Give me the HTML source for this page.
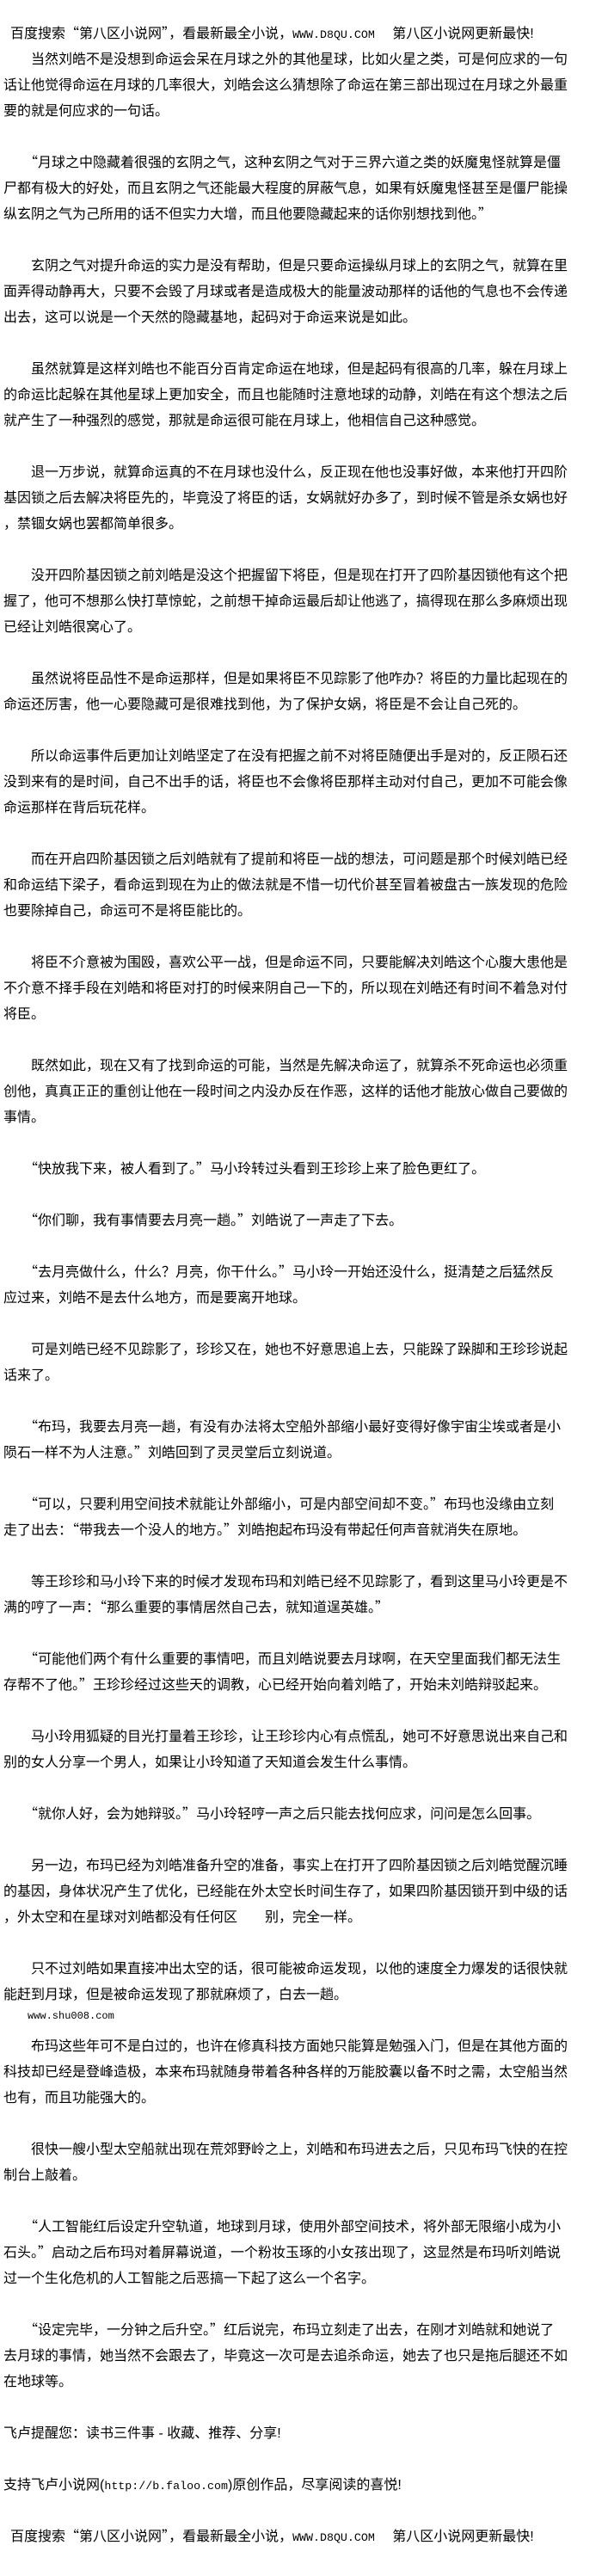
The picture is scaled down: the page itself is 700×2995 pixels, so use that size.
<!DOCTYPE html>
<html><head><meta charset="utf-8">
<style>
html,body{margin:0;padding:0;background:#fff;}
body{width:700px;height:2990px;overflow:hidden;font-family:"Liberation Sans","Noto Sans CJK SC",sans-serif;font-size:16px;color:#000;}
#w{position:absolute;left:4px;top:25px;}
p{margin:0 0 30px 0;line-height:30px;height:auto;white-space:nowrap;}
.h{padding-left:8px;}
.m{font-family:"Liberation Mono",monospace;font-size:13.3px;line-height:0;}
q{quotes:none;font-family:"Noto Sans CJK SC",sans-serif;line-height:0;}
q:before,q:after{content:none;}
.s{position:absolute;left:32px;top:2336px;font-family:"Liberation Mono",monospace;font-size:12px;line-height:16px;}
</style></head><body>
<div id="w">
<p class="h" style="margin-bottom:0">百度搜索<q>“</q>第八区小说网<q>”</q>，看最新最全小说，<span class="m">WWW.D8QU.COM</span>　 第八区小说网更新最快!</p>
<p>　　当然刘皓不是没想到命运会呆在月球之外的其他星球，比如火星之类，可是何应求的一句<br>话让他觉得命运在月球的几率很大，刘皓会这么猜想除了命运在第三部出现过在月球之外最重<br>要的就是何应求的一句话。</p>
<p>　　<q>“</q>月球之中隐藏着很强的玄阴之气，这种玄阴之气对于三界六道之类的妖魔鬼怪就算是僵<br>尸都有极大的好处，而且玄阴之气还能最大程度的屏蔽气息，如果有妖魔鬼怪甚至是僵尸能操<br>纵玄阴之气为己所用的话不但实力大增，而且他要隐藏起来的话你别想找到他。<q>”</q></p>
<p>　　玄阴之气对提升命运的实力是没有帮助，但是只要命运操纵月球上的玄阴之气，就算在里<br>面弄得动静再大，只要不会毁了月球或者是造成极大的能量波动那样的话他的气息也不会传递<br>出去，这可以说是一个天然的隐藏基地，起码对于命运来说是如此。</p>
<p>　　虽然就算是这样刘皓也不能百分百肯定命运在地球，但是起码有很高的几率，躲在月球上<br>的命运比起躲在其他星球上更加安全，而且也能随时注意地球的动静，刘皓在有这个想法之后<br>就产生了一种强烈的感觉，那就是命运很可能在月球上，他相信自己这种感觉。</p>
<p>　　退一万步说，就算命运真的不在月球也没什么，反正现在他也没事好做，本来他打开四阶<br>基因锁之后去解决将臣先的，毕竟没了将臣的话，女娲就好办多了，到时候不管是杀女娲也好<br>，禁锢女娲也罢都简单很多。</p>
<p>　　没开四阶基因锁之前刘皓是没这个把握留下将臣，但是现在打开了四阶基因锁他有这个把<br>握了，他可不想那么快打草惊蛇，之前想干掉命运最后却让他逃了，搞得现在那么多麻烦出现<br>已经让刘皓很窝心了。</p>
<p>　　虽然说将臣品性不是命运那样，但是如果将臣不见踪影了他咋办？将臣的力量比起现在的<br>命运还厉害，他一心要隐藏可是很难找到他，为了保护女娲，将臣是不会让自己死的。</p>
<p>　　所以命运事件后更加让刘皓坚定了在没有把握之前不对将臣随便出手是对的，反正陨石还<br>没到来有的是时间，自己不出手的话，将臣也不会像将臣那样主动对付自己，更加不可能会像<br>命运那样在背后玩花样。</p>
<p>　　而在开启四阶基因锁之后刘皓就有了提前和将臣一战的想法，可问题是那个时候刘皓已经<br>和命运结下梁子，看命运到现在为止的做法就是不惜一切代价甚至冒着被盘古一族发现的危险<br>也要除掉自己，命运可不是将臣能比的。</p>
<p>　　将臣不介意被为围殴，喜欢公平一战，但是命运不同，只要能解决刘皓这个心腹大患他是<br>不介意不择手段在刘皓和将臣对打的时候来阴自己一下的，所以现在刘皓还有时间不着急对付<br>将臣。</p>
<p>　　既然如此，现在又有了找到命运的可能，当然是先解决命运了，就算杀不死命运也必须重<br>创他，真真正正的重创让他在一段时间之内没办反在作恶，这样的话他才能放心做自己要做的<br>事情。</p>
<p>　　<q>“</q>快放我下来，被人看到了。<q>”</q>马小玲转过头看到王珍珍上来了脸色更红了。</p>
<p>　　<q>“</q>你们聊，我有事情要去月亮一趟。<q>”</q>刘皓说了一声走了下去。</p>
<p>　　<q>“</q>去月亮做什么，什么？月亮，你干什么。<q>”</q>马小玲一开始还没什么，挺清楚之后猛然反<br>应过来，刘皓不是去什么地方，而是要离开地球。</p>
<p>　　可是刘皓已经不见踪影了，珍珍又在，她也不好意思追上去，只能跺了跺脚和王珍珍说起<br>话来了。</p>
<p>　　<q>“</q>布玛，我要去月亮一趟，有没有办法将太空船外部缩小最好变得好像宇宙尘埃或者是小<br>陨石一样不为人注意。<q>”</q>刘皓回到了灵灵堂后立刻说道。</p>
<p>　　<q>“</q>可以，只要利用空间技术就能让外部缩小，可是内部空间却不变。<q>”</q>布玛也没缘由立刻<br>走了出去：<q>“</q>带我去一个没人的地方。<q>”</q>刘皓抱起布玛没有带起任何声音就消失在原地。</p>
<p>　　等王珍珍和马小玲下来的时候才发现布玛和刘皓已经不见踪影了，看到这里马小玲更是不<br>满的哼了一声：<q>“</q>那么重要的事情居然自己去，就知道逞英雄。<q>”</q></p>
<p>　　<q>“</q>可能他们两个有什么重要的事情吧，而且刘皓说要去月球啊，在天空里面我们都无法生<br>存帮不了他。<q>”</q>王珍珍经过这些天的调教，心已经开始向着刘皓了，开始未刘皓辩驳起来。</p>
<p>　　马小玲用狐疑的目光打量着王珍珍，让王珍珍内心有点慌乱，她可不好意思说出来自己和<br>别的女人分享一个男人，如果让小玲知道了天知道会发生什么事情。</p>
<p>　　<q>“</q>就你人好，会为她辩驳。<q>”</q>马小玲轻哼一声之后只能去找何应求，问问是怎么回事。</p>
<p>　　另一边，布玛已经为刘皓准备升空的准备，事实上在打开了四阶基因锁之后刘皓觉醒沉睡<br>的基因，身体状况产生了优化，已经能在外太空长时间生存了，如果四阶基因锁开到中级的话<br>，外太空和在星球对刘皓都没有任何区　　别，完全一样。</p>
<p>　　只不过刘皓如果直接冲出太空的话，很可能被命运发现，以他的速度全力爆发的话很快就<br>能赶到月球，但是被命运发现了那就麻烦了，白去一趟。</p>
<p>　　布玛这些年可不是白过的，也许在修真科技方面她只能算是勉强入门，但是在其他方面的<br>科技却已经是登峰造极，本来布玛就随身带着各种各样的万能胶囊以备不时之需，太空船当然<br>也有，而且功能强大的。</p>
<p>　　很快一艘小型太空船就出现在荒郊野岭之上，刘皓和布玛进去之后，只见布玛飞快的在控<br>制台上敲着。</p>
<p>　　<q>“</q>人工智能红后设定升空轨道，地球到月球，使用外部空间技术，将外部无限缩小成为小<br>石头。<q>”</q>启动之后布玛对着屏幕说道，一个粉妆玉琢的小女孩出现了，这显然是布玛听刘皓说<br>过一个生化危机的人工智能之后恶搞一下起了这么一个名字。</p>
<p>　　<q>“</q>设定完毕，一分钟之后升空。<q>”</q>红后说完，布玛立刻走了出去，在刚才刘皓就和她说了<br>去月球的事情，她当然不会跟去了，毕竟这一次可是去追杀命运，她去了也只是拖后腿还不如<br>在地球等。</p>
<p>飞卢提醒您：读书三件事 - 收藏、推荐、分享!</p>
<p>支持飞卢小说网(<span class="m">http://b.faloo.com</span>)原创作品，尽享阅读的喜悦!</p>
<p class="h">百度搜索<q>“</q>第八区小说网<q>”</q>，看最新最全小说，<span class="m">WWW.D8QU.COM</span>　 第八区小说网更新最快!</p>
</div>
<div class="s">www.shu008.com</div>
</body></html>
